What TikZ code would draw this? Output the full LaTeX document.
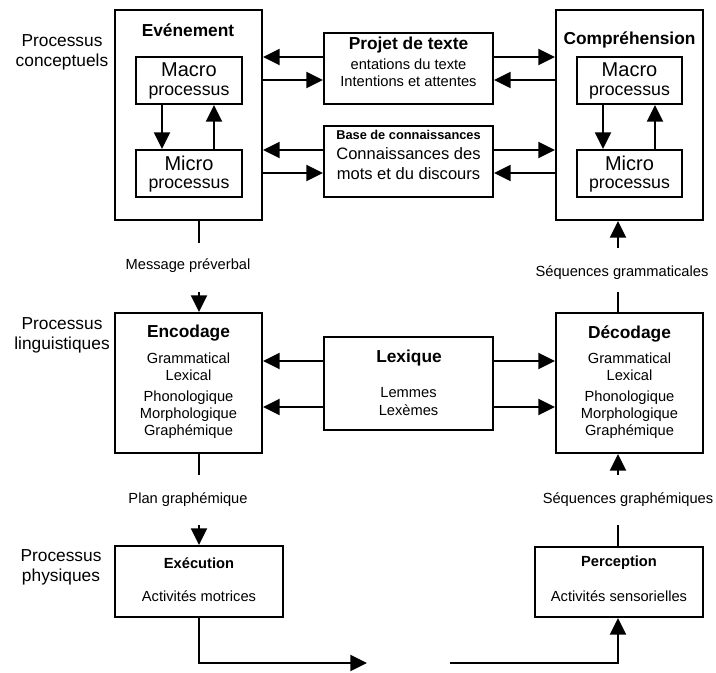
\documentclass[tikz,border=0pt]{standalone}
\usepackage{fontspec}
\setmainfont{Liberation Sans}
\usetikzlibrary{arrows.meta}
\newcommand{\fsA}{\fontsize{13}{15}\selectfont}
\newcommand{\fsB}{\fontsize{11}{13}\selectfont}
\newcommand{\fsC}{\fontsize{15}{17}\selectfont}
\newcommand{\fsD}{\fontsize{13.3}{15}\selectfont}
\tikzset{
  box/.style={draw, line width=1.6pt, inner sep=0pt, fill=none},
  arr/.style={line width=1.5pt, -{Triangle[length=12.5pt,width=12pt]}},
  ln/.style={line width=1.5pt},
  txt/.style={inner sep=0pt, align=center},
}
\begin{document}
\begin{tikzpicture}[x=0.75pt,y=-0.75pt]
\useasboundingbox (0,0) rectangle (716,672);
% left labels
\node[txt,font=\fsA] (lc) at (62,52) {Processus\\conceptuels};
\node[txt,font=\fsA] (ll) at (62,335) {Processus\\linguistiques};
\node[txt,font=\fsA] (lp) at (61,567) {Processus\\physiques};
% boxes
\node[box, minimum width=110.25pt, minimum height=157.5pt] (ev) at (188.5,115) {};
\node[box, minimum width=79.5pt, minimum height=35.25pt] (maL) at (189,80.5) {};
\node[box, minimum width=79.5pt, minimum height=35.25pt] (miL) at (189,173.5) {};
\node[box, minimum width=126.75pt, minimum height=53.25pt] (proj) at (408.5,68.5) {};
\node[box, minimum width=126.75pt, minimum height=53.25pt] (base) at (408.5,161.5) {};
\node[box, minimum width=110.25pt, minimum height=157.5pt] (comp) at (629.5,115) {};
\node[box, minimum width=78.75pt, minimum height=35.25pt] (maR) at (629.5,80.5) {};
\node[box, minimum width=78.75pt, minimum height=35.25pt] (miR) at (629.5,173.5) {};
\node[box, minimum width=110.25pt, minimum height=105pt] (enc) at (188.5,383) {};
\node[box, minimum width=126.75pt, minimum height=69.75pt] (lex) at (408.5,383.5) {};
\node[box, minimum width=110.25pt, minimum height=105pt] (dec) at (629.5,383) {};
\node[box, minimum width=126pt, minimum height=53.25pt] (exe) at (199,581.5) {};
\node[box, minimum width=126pt, minimum height=52.5pt] (per) at (619,582) {};
% texts
\node[txt,font=\fsA\bfseries] (tev) at (188,30) {Evénement};
\node[txt,font=\fsC] (tmaL1) at (189,70) {Macro};
\node[txt,font=\fsD] (tmaL2) at (189,93) {processus};
\node[txt,font=\fsC] (tmiL1) at (189,163) {Micro};
\node[txt,font=\fsD] (tmiL2) at (189,186) {processus};
\node[txt,font=\fsA\bfseries] (tcomp) at (629.5,40) {Compréhension};
\node[txt,font=\fsC] (tmaR1) at (629.5,70) {Macro};
\node[txt,font=\fsD] (tmaR2) at (629.5,93) {processus};
\node[txt,font=\fsC] (tmiR1) at (629.5,163) {Micro};
\node[txt,font=\fsD] (tmiR2) at (629.5,186) {processus};
\node[txt,font=\fsA\bfseries] (tp1) at (408.5,45) {Projet de texte};
\node[txt,font=\fsB] (tp2) at (408.5,64) {entations du texte};
\node[txt,font=\fsB] (tp3) at (408.5,81) {Intentions et attentes};
\node[txt,font=\fontsize{9.6}{11}\selectfont\bfseries] (tb1) at (408.5,135) {Base de connaissances};
\node[txt,font=\fontsize{12.4}{14}\selectfont] (tb2) at (408.5,154) {Connaissances des};
\node[txt,font=\fontsize{12.4}{14}\selectfont] (tb3) at (408.5,174) {mots et du discours};
\node[txt,font=\fsA\bfseries] (tenc) at (188.5,333) {Encodage};
\node[txt,font=\fsB] (te1) at (188.5,358) {Grammatical};
\node[txt,font=\fsB] (te2) at (188.5,375) {Lexical};
\node[txt,font=\fsB] (te3) at (188.5,398) {Phonologique};
\node[txt,font=\fsB] (te4) at (188.5,415) {Morphologique};
\node[txt,font=\fsB] (te5) at (188.5,432) {Graphémique};
\node[txt,font=\fsA\bfseries] (tdec) at (629.5,334) {Décodage};
\node[txt,font=\fsB] (td1) at (629.5,358) {Grammatical};
\node[txt,font=\fsB] (td2) at (629.5,375) {Lexical};
\node[txt,font=\fsB] (td3) at (629.5,398) {Phonologique};
\node[txt,font=\fsB] (td4) at (629.5,415) {Morphologique};
\node[txt,font=\fsB] (td5) at (629.5,432) {Graphémique};
\node[txt,font=\fsA\bfseries] (tlex) at (409,358) {Lexique};
\node[txt,font=\fsB] (tl1) at (408.5,393) {Lemmes};
\node[txt,font=\fsB] (tl2) at (408.5,410) {Lexèmes};
\node[txt,font=\fsB\bfseries] (tex) at (199,563) {Exécution};
\node[txt,font=\fsB] (tex2) at (199,596) {Activités motrices};
\node[txt,font=\fsB\bfseries] (tper) at (619,563) {Perception};
\node[txt,font=\fsB] (tper2) at (619,596) {Activités sensorielles};
% flow labels
\node[txt,font=\fsB] (msg) at (188,266) {Message préverbal};
\node[txt,font=\fsB] (plan) at (188,500) {Plan graphémique};
\node[txt,font=\fsB] (sgram) at (622,273) {Séquences grammaticales};
\node[txt,font=\fsB] (sgraph) at (628,500) {Séquences graphémiques};
% coordinates
\coordinate (xL) at (199,0);
\coordinate (xR) at (618,0);
\coordinate (bl) at (199,663);
\coordinate (bm1) at (367,663);
\coordinate (bm2) at (450,663);
\coordinate (br) at (618,663);
% horizontal arrows top
\draw[arr] (proj.west |- 0,57) -- (ev.east |- 0,57);
\draw[arr] (ev.east |- 0,80) -- (proj.west |- 0,80);
\draw[arr] (proj.east |- 0,57) -- (comp.west |- 0,57);
\draw[arr] (comp.west |- 0,80) -- (proj.east |- 0,80);
\draw[arr] (base.west |- 0,150) -- (ev.east |- 0,150);
\draw[arr] (ev.east |- 0,173) -- (base.west |- 0,173);
\draw[arr] (base.east |- 0,150) -- (comp.west |- 0,150);
\draw[arr] (comp.west |- 0,173) -- (base.east |- 0,173);
% inner arrows
\draw[arr] (maL.south -| 162,0) -- (miL.north -| 162,0);
\draw[arr] (miL.north -| 214,0) -- (maL.south -| 214,0);
\draw[arr] (maR.south -| 603,0) -- (miR.north -| 603,0);
\draw[arr] (miR.north -| 655,0) -- (maR.south -| 655,0);
% lexique arrows
\draw[arr] (lex.west |- 0,361) -- (enc.east |- 0,361);
\draw[arr] (lex.west |- 0,407) -- (enc.east |- 0,407);
\draw[arr] (lex.east |- 0,361) -- (dec.west |- 0,361);
\draw[arr] (lex.east |- 0,407) -- (dec.west |- 0,407);
% left vertical flow
\draw[ln] (ev.south -| xL) -- (xL |- 0,243);
\draw[arr] (xL |- 0,292) -- (enc.north -| xL);
\draw[ln] (enc.south -| xL) -- (xL |- 0,475);
\draw[arr] (xL |- 0,525) -- (exe.north -| xL);
% right vertical flow
\draw[ln] (dec.north -| xR) -- (xR |- 0,292);
\draw[arr] (xR |- 0,248) -- (comp.south -| xR);
\draw[ln] (per.north -| xR) -- (xR |- 0,525);
\draw[arr] (xR |- 0,475) -- (dec.south -| xR);
% bottom path
\draw[arr] (exe.south -| bl) -- (bl) -- (bm1);
\draw[arr] (bm2) -- (br) -- (per.south -| br);
\end{tikzpicture}
\end{document}
